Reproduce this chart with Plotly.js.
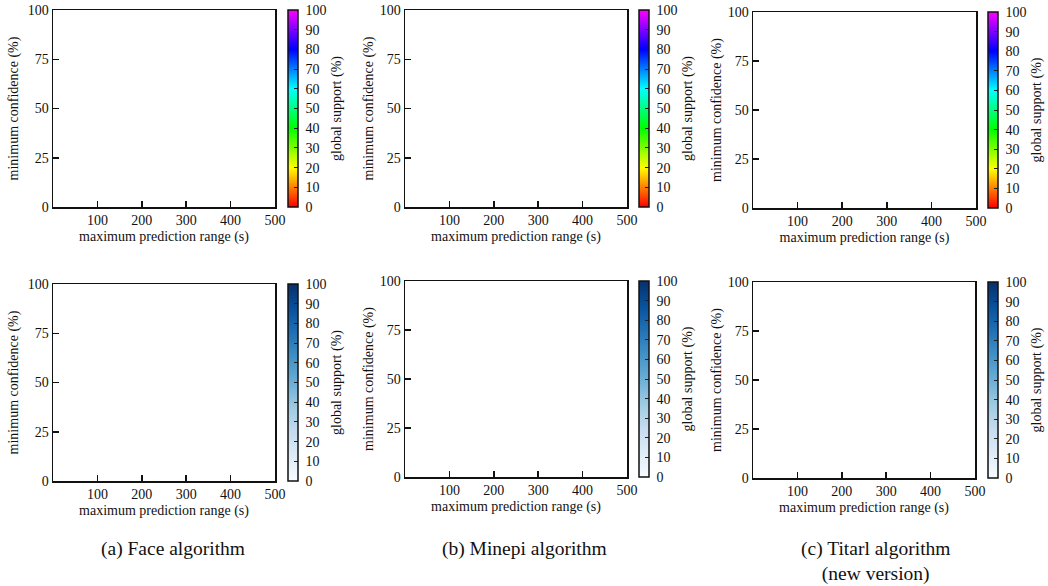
<!DOCTYPE html>
<html>
<head>
<meta charset="utf-8">
<script src="https://cdn.plot.ly/plotly-3.0.1.min.js"></script>
<style>html,body{margin:0;padding:0;background:#fff;}</style>
</head>
<body>
<div id="chart" style="width:1048px;height:586px;"></div>
<script>
// ---- data (all panels are empty in the reference: no support values drawn) ----
const faceSupport = [null];
const minepiSupport = [null];
const titarlSupport = [null];
const supportTicks = [0, 10, 20, 30, 40, 50, 60, 70, 80, 90, 100];
const supportTickText = ["0", "10", "20", "30", "40", "50", "60", "70", "80", "90", "100"];
const xTickVals = [100, 200, 300, 400, 500];
const yTickVals = [0, 25, 50, 75, 100];
const captions = ["(a) Face algorithm", "(b) Minepi algorithm", "(c) Titarl algorithm<br>(new version)"];
const xTitle = "maximum prediction range (s)";
const yTitle = "minimum confidence (%)";
const cbTitle = "global support (%)";

const rainbow = [[0,'#ff0000'],[0.2,'#ffff00'],[0.4,'#00ff00'],[0.6,'#00ffff'],[0.8,'#0000ff'],[1,'#ff00ff']];
const blues = [[0,'#f7fbff'],[0.125,'#deebf7'],[0.25,'#c6dbef'],[0.375,'#9ecae1'],[0.5,'#6baed6'],[0.625,'#4292c6'],[0.75,'#2171b5'],[0.875,'#08519c'],[1,'#08306b']];

const W = 1048, H = 586;
const FONT = 'Liberation Serif';
// pixel boxes [left, right, top, bottom, colorbar-left]
const boxes = [
  [53, 275, 10, 207, 288],
  [405, 627, 10, 207, 639],
  [753, 976, 12, 208, 988],
  [53, 275, 284, 481, 288],
  [405, 627, 281, 477, 639],
  [753, 975, 282, 478, 988]
];
const series = [faceSupport, minepiSupport, titarlSupport, faceSupport, minepiSupport, titarlSupport];

const data = [];
const layout = {
  width: W, height: H, autosize: false,
  margin: {l:0, r:0, t:0, b:0},
  paper_bgcolor: '#fff', plot_bgcolor: '#fff',
  font: {family: FONT, size: 14, color: '#111'},
  showlegend: false,
  annotations: []
};

function cbar(b) {
  return {
    x: b[4] / W, xanchor: 'left', xref: 'paper',
    y: 1 - (b[2] + b[3]) / 2 / H, yanchor: 'middle', yref: 'paper',
    len: (b[3] - b[2]) / H, lenmode: 'fraction',
    thickness: 10, thicknessmode: 'pixels',
    xpad: 0, ypad: 0,
    outlinewidth: 1.5, outlinecolor: '#111',
    tickmode: 'array', tickvals: supportTicks,
    ticktext: supportTickText.map(t => '\u00a0' + t + '\u00a0\u00a0'),
    ticks: 'inside', ticklen: 4, tickwidth: 1, tickcolor: '#222',
    tickfont: {family: FONT, size: 14, color: '#111'},
    title: {text: cbTitle, side: 'right', font: {family: FONT, size: 14, color: '#111'}}
  };
}

boxes.forEach((b, i) => {
  const n = i + 1;
  const sfx = n === 1 ? '' : String(n);
  const cs = i < 3 ? rainbow : blues;
  const vals = series[i];
  data.push({
    type: 'scatter', mode: 'markers', x: vals, y: vals,
    xaxis: 'x' + sfx, yaxis: 'y' + sfx, hoverinfo: 'skip',
    marker: {color: vals, cmin: 0, cmax: 100, colorscale: cs, showscale: true, colorbar: cbar(b)}
  });
  layout['xaxis' + sfx] = {
    domain: [b[0] / W, b[1] / W], anchor: 'y' + sfx,
    range: [0, 500], tickvals: xTickVals, ticks: 'inside', ticklen: 6, tickwidth: 1.5, tickcolor: '#111',
    showgrid: false, zeroline: false, showline: true, linewidth: 1.5, linecolor: '#111', mirror: true,
    tickfont: {family: FONT, size: 14, color: '#111'}, automargin: false,
    title: {text: xTitle, standoff: 4, font: {family: FONT, size: 14, color: '#111'}}
  };
  layout['yaxis' + sfx] = {
    domain: [1 - b[3] / H, 1 - b[2] / H], anchor: 'x' + sfx,
    range: [0, 100], tickvals: yTickVals, ticks: 'inside', ticklen: 6, tickwidth: 1.5, tickcolor: '#111',
    showgrid: false, zeroline: false, showline: true, linewidth: 1.5, linecolor: '#111', mirror: true,
    tickfont: {family: FONT, size: 14, color: '#111'}, automargin: false,
    title: {text: yTitle, standoff: (i % 3 === 0) ? 6 : 3, font: {family: FONT, size: 14, color: '#111'}}
  };
});

const capX = [173, 524, 876];
captions.forEach((c, i) => {
  layout.annotations.push({
    text: c, xref: 'paper', yref: 'paper', x: capX[i] / W, y: 1 - 536 / H,
    xanchor: 'center', yanchor: 'top', showarrow: false,
    font: {family: FONT, size: 19.5, color: '#111'}
  });
});

Plotly.newPlot('chart', data, layout, {staticPlot: true, displayModeBar: false});
</script>
</body>
</html>
